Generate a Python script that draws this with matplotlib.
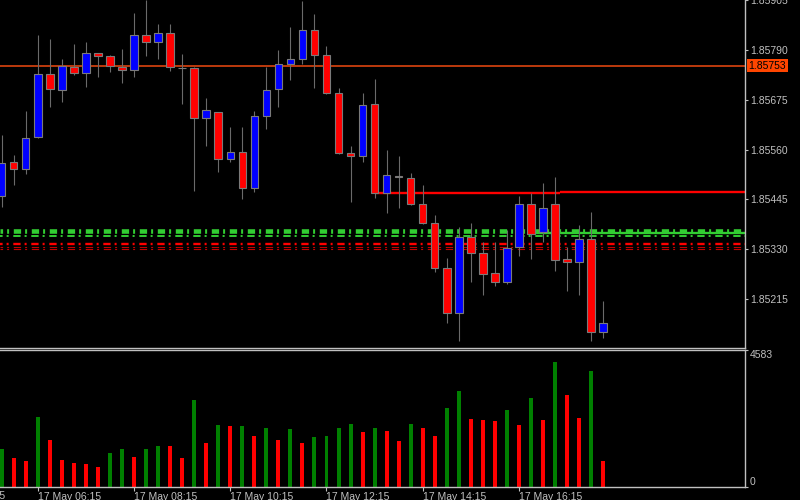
import matplotlib
matplotlib.use("Agg")
import matplotlib.pyplot as plt
import matplotlib.transforms as mtransforms

plt.rcParams["font.family"] = ["Liberation Sans", "DejaVu Sans"]
plt.rcParams["lines.scale_dashes"] = False

# 15-minute candles, 17 May
opens = [1.85452, 1.85531, 1.85515, 1.85590, 1.85735, 1.85698, 1.85751, 1.85736, 1.85782, 1.85775,
         1.85751, 1.85743, 1.85824, 1.85808, 1.85829, 1.85749, 1.85748, 1.85632, 1.85646, 1.85538,
         1.85554, 1.85471, 1.85638, 1.85699, 1.85757, 1.85769, 1.85836, 1.85777, 1.85691, 1.85553,
         1.85544, 1.85665, 1.85460, 1.85500, 1.85495, 1.85434, 1.85390, 1.85287, 1.85183, 1.85357,
         1.85322, 1.85274, 1.85254, 1.85334, 1.85434, 1.85369, 1.85434, 1.85307, 1.85301, 1.85354,
         1.85138]
highs = [1.85594, 1.85548, 1.85650, 1.85825, 1.85815, 1.85769, 1.85803, 1.85808, 1.85783, 1.85778,
         1.85791, 1.85875, 1.85904, 1.85850, 1.85850, 1.85781, 1.85750, 1.85680, 1.85647, 1.85613,
         1.85611, 1.85649, 1.85751, 1.85790, 1.85842, 1.85903, 1.85872, 1.85799, 1.85702, 1.85567,
         1.85691, 1.85723, 1.85559, 1.85546, 1.85505, 1.85477, 1.85409, 1.85309, 1.85381, 1.85390,
         1.85347, 1.85347, 1.85374, 1.85453, 1.85459, 1.85482, 1.85496, 1.85336, 1.85386, 1.85415,
         1.85210]
lows = [1.85427, 1.85477, 1.85504, 1.85587, 1.85658, 1.85670, 1.85731, 1.85705, 1.85728, 1.85738,
        1.85714, 1.85727, 1.85775, 1.85769, 1.85742, 1.85665, 1.85465, 1.85567, 1.85507, 1.85531,
        1.85446, 1.85463, 1.85608, 1.85659, 1.85721, 1.85757, 1.85703, 1.85688, 1.85550, 1.85440,
        1.85531, 1.85448, 1.85414, 1.85424, 1.85432, 1.85388, 1.85278, 1.85160, 1.85118, 1.85255,
        1.85224, 1.85245, 1.85250, 1.85314, 1.85307, 1.85347, 1.85280, 1.85234, 1.85224, 1.85118,
        1.85126]
closes = [1.85529, 1.85515, 1.85587, 1.85735, 1.85700, 1.85753, 1.85736, 1.85782, 1.85775, 1.85752,
          1.85744, 1.85824, 1.85808, 1.85829, 1.85751, 1.85749, 1.85632, 1.85651, 1.85538, 1.85554,
          1.85471, 1.85638, 1.85698, 1.85757, 1.85769, 1.85836, 1.85777, 1.85691, 1.85553, 1.85544,
          1.85662, 1.85459, 1.85501, 1.85496, 1.85434, 1.85390, 1.85287, 1.85183, 1.85357, 1.85322,
          1.85273, 1.85254, 1.85333, 1.85434, 1.85364, 1.85426, 1.85305, 1.85300, 1.85354, 1.85138,
          1.85159]
volumes = [1261, 960, 870, 2331, 1582, 903, 803, 759, 659, 1127,
           1261, 1004, 1261, 1371, 1355, 980, 2910, 1472, 2084, 2030,
           2045, 1706, 1963, 1562, 1940, 1462, 1683, 1706, 1984, 2107,
           1840, 1984, 1884, 1539, 2107, 1963, 1706, 2643, 3211, 2264,
           2255, 2218, 2586, 2063, 2966, 2252, 4170, 3088, 2308, 3870, 870]

tick_idx = [-5, 3, 11, 19, 27, 35, 43]
tick_labels = ["17 May 04:15", "17 May 06:15", "17 May 08:15", "17 May 10:15",
               "17 May 12:15", "17 May 14:15", "17 May 16:15"]
price_ticks = [1.85905, 1.85790, 1.85675, 1.85560, 1.85445, 1.85330, 1.85215]
vol_max = 4583

# horizontal levels
price_line = 1.85753
red_res = [1.85459, 1.85461]
red_res_x = [31, 46.4]
green_levels = [1.85371, 1.85361]
red_levels = [1.85341, 1.85335, 1.85330]
green_solid = 1.85368
green_solid_x = 44

fg = "#C0C0C0"
fig = plt.figure(figsize=(8, 5), dpi=100, facecolor="black")
ax = fig.add_axes([0, 0.304, 745 / 800, 0.696], facecolor="black")
axv = fig.add_axes([0, 0.026, 745 / 800, 0.274], facecolor="black")

n = len(opens)
x = list(range(n))
xlim = (-0.141, 61.79)

# levels behind candles
dash = (3.38, (5.26, 2.88, 1.44, 3.38))
ax.axhline(green_levels[0], color="#32CD32", lw=3.3, ls=dash, zorder=1)
ax.axhline(green_levels[1], color="#32CD32", lw=1.4, ls=dash, zorder=1)
ax.axhline(red_levels[0], color="#FF0000", lw=1.7, ls=dash, zorder=1)
ax.axhline(red_levels[1], color="#C00000", lw=0.8, ls=dash, zorder=1)
ax.axhline(red_levels[2], color="#C00000", lw=0.8, ls=dash, zorder=1)
ax.hlines(green_solid, green_solid_x, xlim[1], color="#32CD32", lw=1.7, zorder=1)
ax.hlines(red_res[0], red_res_x[0], red_res_x[1], color="#FF0000", lw=1.7, zorder=1)
ax.hlines(red_res[1], red_res_x[1], xlim[1], color="#FF0000", lw=1.7, zorder=1)
ax.axhline(price_line, color="#F04A10", lw=1.1, zorder=1)

# candles
ax.vlines(x, lows, highs, color="#6A6A6A", lw=0.8, zorder=2)
body_col = ["#0000FF" if c >= o else "#FF0000" for o, c in zip(opens, closes)]
ax.bar(x, [c - o for o, c in zip(opens, closes)], bottom=opens, width=0.62,
       color=body_col, edgecolor="#7A7A7A", linewidth=0.8, zorder=3)

ax.set_xlim(*xlim)
ax.set_ylim(1.85102, 1.85905)
ax.yaxis.tick_right()
ax.set_yticks(price_ticks)
ax.set_yticklabels([f"{p:.5f}" for p in price_ticks])
ax.tick_params(axis="y", colors=fg, labelcolor=fg, labelsize=7.5, length=2.4, pad=1.2, width=0.8)
ax.set_xticks([])
for s in ["top", "left"]:
    ax.spines[s].set_visible(False)
for s in ["right", "bottom"]:
    ax.spines[s].set_color(fg)
    ax.spines[s].set_linewidth(1.0)

ax.text(1.0047, price_line, f"{price_line:.5f}", transform=ax.get_yaxis_transform(),
        ha="left", va="center", fontsize=7.5, color="black", clip_on=False,
        bbox=dict(boxstyle="square,pad=0.15", fc="#FF4500", ec="none"))

# volumes: green when higher than previous bar
vol_col = ["#008000"]
for i in range(1, n):
    vol_col.append("#008000" if volumes[i] > volumes[i - 1] else "#FF0000")
axv.bar(x, volumes, width=0.33, color=vol_col, linewidth=0)
axv.set_xlim(*xlim)
axv.set_ylim(0, vol_max)
axv.yaxis.tick_right()
axv.set_yticks([0, vol_max])
axv.set_yticklabels(["0", str(vol_max)])
axv.tick_params(axis="y", colors=fg, labelcolor=fg, labelsize=7.5, length=2.4, pad=1.2, width=0.8)
ylabs = axv.get_yticklabels()
ylabs[0].set_va("bottom")
ylabs[1].set_va("top")
axv.set_xticks(tick_idx[1:])
axv.set_xticklabels(tick_labels[1:])
axv.tick_params(axis="x", colors=fg, labelcolor=fg, labelsize=7.5, length=2.8, pad=0.6, width=0.8)
for lab in axv.get_xticklabels():
    lab.set_ha("left")
# label of the tick that falls just left of the visible range
trans = mtransforms.blended_transform_factory(axv.transData, axv.transAxes)
axv.text(tick_idx[0], 0, tick_labels[0], transform=trans, ha="left", va="top",
         fontsize=7.5, color=fg, clip_on=False,
         transform_rotates_text=False).set_y(-0.03)
axv.spines["left"].set_visible(False)
for s in ["top", "right", "bottom"]:
    axv.spines[s].set_color(fg)
    axv.spines[s].set_linewidth(1.0)

fig.savefig("out.png", dpi=100, facecolor="black")
